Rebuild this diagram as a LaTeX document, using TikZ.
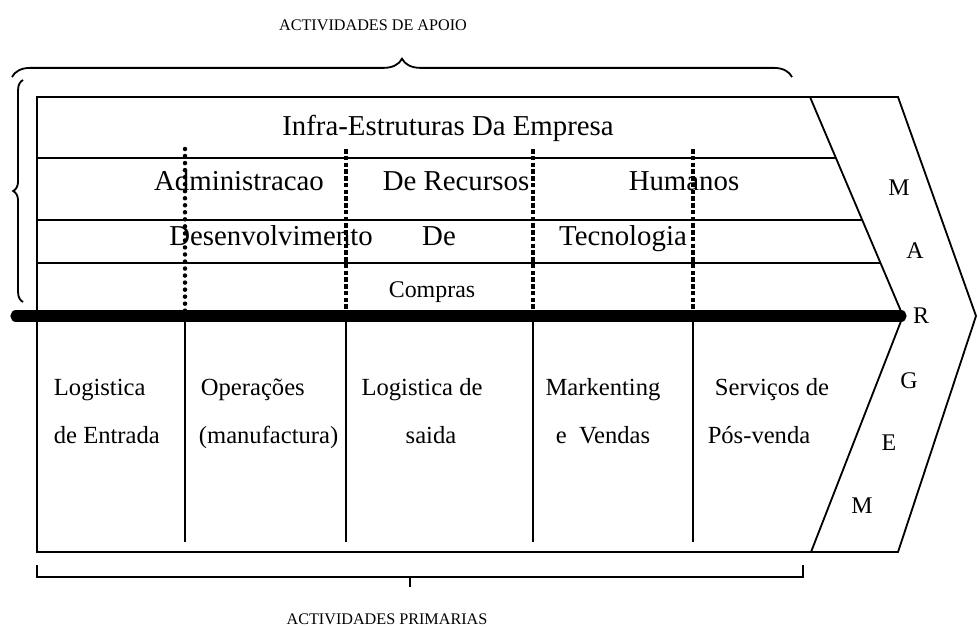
\documentclass[tikz,border=0pt]{standalone}
\usepackage{fontspec}
\setmainfont{Liberation Serif}
\usetikzlibrary{decorations.pathreplacing}
\begin{document}
\begin{tikzpicture}[x=0.025cm, y=-0.025cm, line width=1.3pt,
    rowtxt/.style={anchor=base, inner sep=0pt, font=\fontsize{20.5}{24}\selectfont},
    primtxt/.style={anchor=base, inner sep=0pt, font=\fontsize{17.5}{21}\selectfont},
    margtxt/.style={anchor=base, inner sep=0pt, font=\fontsize{17}{20}\selectfont},
    titletxt/.style={anchor=base, inner sep=0pt, font=\fontsize{11.5}{14}\selectfont},
    dotsep/.style={line width=3.2pt, line cap=round, dash pattern=on 0pt off 5pt},
    dashsep/.style={line width=2.4pt, dash pattern=on 3.2pt off 1.6pt}]
\useasboundingbox (0,0) rectangle (978,626);
% caixa principal e margem
\draw (810,97) -- (37,97) -- (37,552) -- (811,552);
\draw (810,97) -- (898,97) -- (976,316) -- (898,552) -- (811,552);
\draw (810,97) -- (903,316) -- (811,552);
\draw (37,158) -- (836,158);
\draw (37,220) -- (862,220);
\draw (37,263) -- (880,263);
\draw[dotsep] (185,149) -- (185,314);
\draw[dashsep] (346,149) -- (346,316);
\draw[dashsep] (533,149) -- (533,316);
\draw[dashsep] (693,149) -- (693,316);
\foreach \x in {185,346,533,693}
{
    \draw (\x,316) -- (\x,542);
}
\draw[line width=8pt, line cap=round] (16,316) -- (901,316);
% chavetas
\draw[decorate, decoration={brace, amplitude=13pt}] (12,77) -- (792,77);
\draw[decorate, decoration={brace, amplitude=7pt}] (23,302) -- (23,80);
\draw (37,565) |- (803,577) -- (803,565);
\draw (410,577) -- (410,587);
% textos
\node[titletxt] (apoio) at (373,30) {ACTIVIDADES DE APOIO};
\node[titletxt] (primarias) at (387,624) {ACTIVIDADES PRIMARIAS};
\node[rowtxt] (infra) at (448,135) {Infra-Estruturas Da Empresa};
\node[rowtxt] (admin) at (239,190) {Administracao};
\node[rowtxt] (recursos) at (456,190) {De Recursos};
\node[rowtxt] (humanos) at (684,190) {Humanos};
\node[rowtxt] (desenv) at (271,245) {Desenvolvimento};
\node[rowtxt] (de) at (439,245) {De};
\node[rowtxt] (tecno) at (623,245) {Tecnologia};
\node[rowtxt, font=\fontsize{17}{20}\selectfont] (compras) at (432,297) {Compras};
\node[primtxt, anchor=base west] (logent1) at (53,395) {Logistica};
\node[primtxt, anchor=base west] (logent2) at (53,443) {de Entrada};
\node[primtxt, anchor=base west] (oper1) at (200,395) {Operações};
\node[primtxt, anchor=base west] (oper2) at (198,443) {(manufactura)};
\node[primtxt] (logsai1) at (422,395) {Logistica de};
\node[primtxt] (logsai2) at (431,443) {saida};
\node[primtxt] (mark1) at (603,395) {Markenting};
\node[primtxt] (mark2) at (603,443) {e~ Vendas};
\node[primtxt] (serv1) at (772,395) {Serviços de};
\node[primtxt] (serv2) at (759,443) {Pós-venda};
\node[margtxt] (m1) at (899,195) {M};
\node[margtxt] (a) at (915,258) {A};
\node[margtxt] (r) at (921,323) {R};
\node[margtxt] (g) at (909,388) {G};
\node[margtxt] (e) at (889,450) {E};
\node[margtxt] (m2) at (862,513) {M};
\end{tikzpicture}
\end{document}
